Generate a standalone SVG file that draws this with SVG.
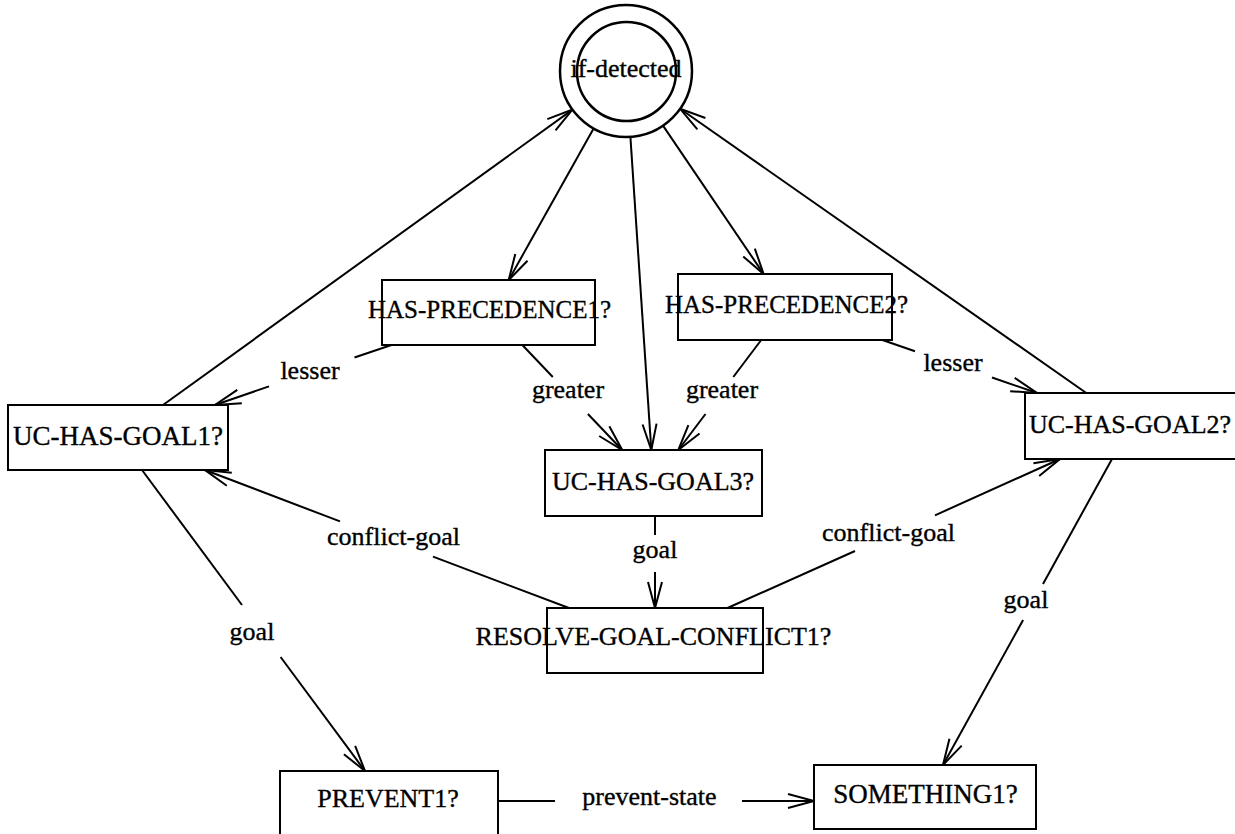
<svg xmlns="http://www.w3.org/2000/svg" width="1235" height="834" viewBox="0 0 1235 834">
  <style>
    .box { fill: #fff; stroke: #000; stroke-width: 2; }
    .ring { fill: #fff; stroke: #000; stroke-width: 2.5; }
    .node, .lbl { font-family: "Liberation Serif", "Times New Roman", serif; font-size: 26px; fill: #000; stroke: #000; stroke-width: 0.35; text-anchor: middle; }
    .edge { fill: none; stroke: #000; stroke-width: 2; }
  </style>
  <defs>
    <marker id="arrow" markerUnits="userSpaceOnUse" viewBox="-30 -10 32 20" refX="0" refY="0" markerWidth="32" markerHeight="20" orient="auto">
      <path d="M-26,-7 L0,0 L-26,7" fill="none" stroke="#000" stroke-width="2"/>
    </marker>
  </defs>
  <rect width="1235" height="834" fill="#fff"/>

  <!-- connectors -->
  <g id="connectors" class="edge">
    <line x1="163" y1="405" x2="572.5" y2="109.6" marker-end="url(#arrow)"/>
    <line x1="593.6" y1="128.5" x2="508.7" y2="280" marker-end="url(#arrow)"/>
    <line x1="630.4" y1="136.9" x2="651.3" y2="450" marker-end="url(#arrow)"/>
    <line x1="663" y1="125.6" x2="763.6" y2="274" marker-end="url(#arrow)"/>
    <line x1="1086.3" y1="393" x2="680.1" y2="108.8" marker-end="url(#arrow)"/>
    <!-- lesser (left) -->
    <line x1="394.4" y1="344" x2="354.5" y2="357.5"/>
    <line x1="269" y1="386.4" x2="215" y2="405" marker-end="url(#arrow)"/>
    <!-- greater (left) -->
    <line x1="521.4" y1="344" x2="552.8" y2="377"/>
    <line x1="587.9" y1="414" x2="622.2" y2="450" marker-end="url(#arrow)"/>
    <!-- greater (right) -->
    <line x1="761.2" y1="340" x2="733.3" y2="377"/>
    <line x1="705.5" y1="414" x2="678.3" y2="450" marker-end="url(#arrow)"/>
    <!-- lesser (right) -->
    <line x1="882.4" y1="340" x2="915" y2="351.2"/>
    <line x1="992" y1="377.5" x2="1037" y2="393" marker-end="url(#arrow)"/>
    <!-- conflict-goal (left) -->
    <line x1="569" y1="608" x2="433" y2="556.6"/>
    <line x1="340" y1="521.4" x2="205" y2="470" marker-end="url(#arrow)"/>
    <!-- conflict-goal (right) -->
    <line x1="727.5" y1="608" x2="855" y2="551"/>
    <line x1="935" y1="515.3" x2="1060" y2="459" marker-end="url(#arrow)"/>
    <!-- goal (centre) -->
    <line x1="655" y1="516" x2="655" y2="535"/>
    <line x1="655" y1="572" x2="655" y2="608" marker-end="url(#arrow)"/>
    <!-- goal (left) -->
    <line x1="142" y1="470" x2="242" y2="605"/>
    <line x1="280.6" y1="657" x2="365" y2="771" marker-end="url(#arrow)"/>
    <!-- goal (right) -->
    <line x1="1112" y1="459" x2="1043" y2="584"/>
    <line x1="1023.1" y1="620" x2="943" y2="765" marker-end="url(#arrow)"/>
    <!-- prevent-state -->
    <line x1="498" y1="801" x2="555" y2="801"/>
    <line x1="742" y1="801" x2="814" y2="801" marker-end="url(#arrow)"/>
  </g>

  <g id="edge-labels">
    <text class="lbl" x="310" y="379">lesser</text>
    <text class="lbl" x="568" y="398">greater</text>
    <text class="lbl" x="722" y="398">greater</text>
    <text class="lbl" x="953" y="371">lesser</text>
    <text class="lbl" x="393.5" y="545">conflict-goal</text>
    <text class="lbl" x="888.5" y="541">conflict-goal</text>
    <text class="lbl" x="655" y="558">goal</text>
    <text class="lbl" x="252" y="640">goal</text>
    <text class="lbl" x="1026" y="608">goal</text>
    <text class="lbl" x="649.5" y="805">prevent-state</text>
  </g>

  <!-- nodes -->
  <g id="if-detected">
    <circle class="ring" cx="626" cy="71" r="66"/>
    <circle class="ring" cx="626.5" cy="71.5" r="49.5"/>
    <text class="node" x="626" y="77">if-detected</text>
  </g>
  <g id="has-precedence1">
    <rect class="box" x="382" y="280" width="213" height="65"/>
    <text class="node" x="489.5" y="318" style="font-size:25px">HAS-PRECEDENCE1?</text>
  </g>
  <g id="has-precedence2">
    <rect class="box" x="678" y="274" width="214" height="66"/>
    <text class="node" x="786.5" y="313" style="font-size:25px">HAS-PRECEDENCE2?</text>
  </g>
  <g id="uc-has-goal1">
    <rect class="box" x="8" y="405" width="220" height="65"/>
    <text class="node" x="118" y="445" style="font-size:27px">UC-HAS-GOAL1?</text>
  </g>
  <g id="uc-has-goal2">
    <rect class="box" x="1025" y="393" width="218" height="66"/>
    <text class="node" x="1130" y="433">UC-HAS-GOAL2?</text>
  </g>
  <g id="uc-has-goal3">
    <rect class="box" x="545" y="450" width="217" height="66"/>
    <text class="node" x="653" y="490">UC-HAS-GOAL3?</text>
  </g>
  <g id="resolve-goal-conflict1">
    <rect class="box" x="547" y="608" width="216" height="65"/>
    <text class="node" x="653.5" y="645">RESOLVE-GOAL-CONFLICT1?</text>
  </g>
  <g id="prevent1">
    <rect class="box" x="280" y="771" width="218" height="65"/>
    <text class="node" x="388" y="807">PREVENT1?</text>
  </g>
  <g id="something1">
    <rect class="box" x="814" y="765" width="222" height="64"/>
    <text class="node" x="925.5" y="803" style="font-size:27px">SOMETHING1?</text>
  </g>
</svg>
